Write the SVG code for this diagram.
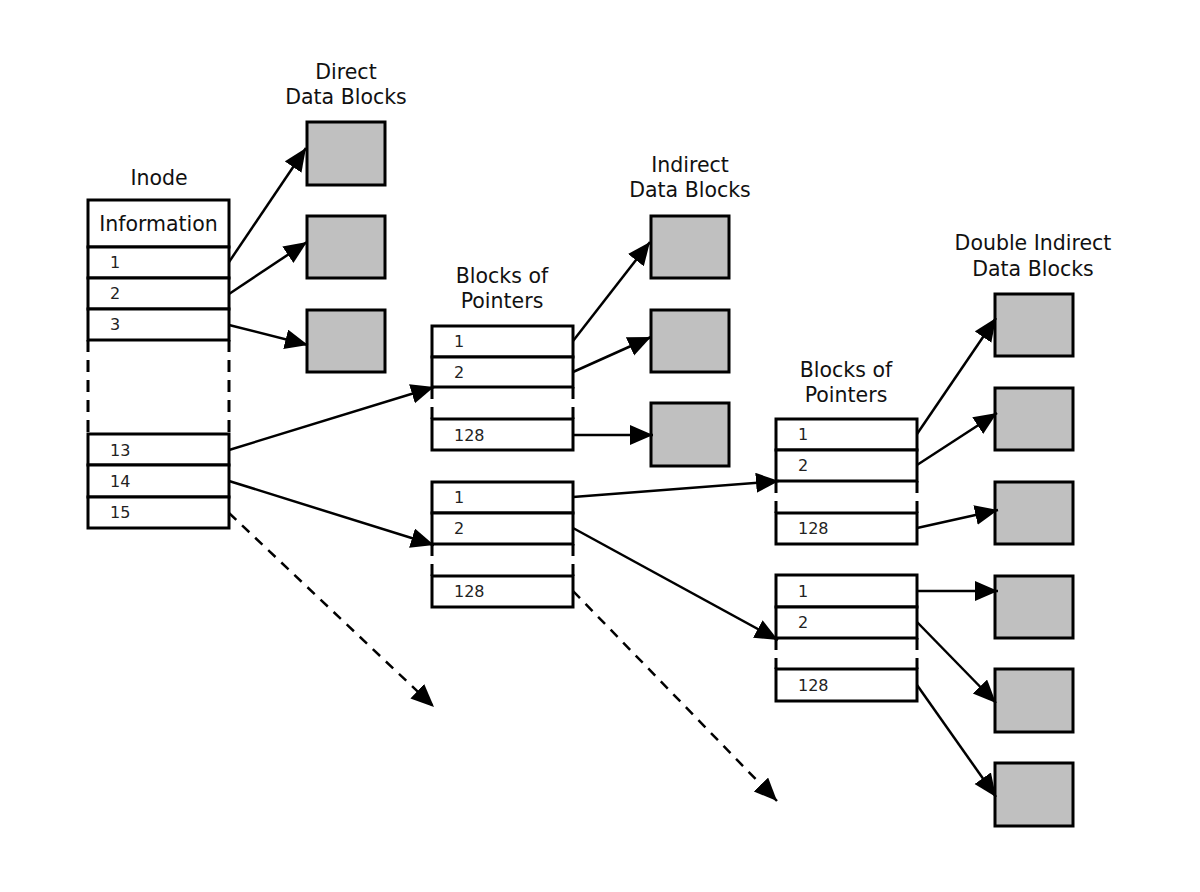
<svg xmlns="http://www.w3.org/2000/svg" width="1200" height="892" viewBox="0 0 1200 892">
<defs>
<marker id="ah" markerUnits="userSpaceOnUse" markerWidth="26" markerHeight="22" refX="23" refY="10" orient="auto">
<path d="M0,0 L23,10 L0,20 Z" fill="#000"/>
</marker>
<style>
.lbl{font-family:"DejaVu Sans",sans-serif;font-size:20.5px;fill:#111;text-anchor:middle}
.num{font-family:"DejaVu Sans",sans-serif;font-size:16px;fill:#222}
.cell{fill:#fff;stroke:#000;stroke-width:3}
.data{fill:#c0c0c0;stroke:#000;stroke-width:3}
.dsh{stroke:#000;stroke-width:3;stroke-dasharray:12 8;fill:none}
.ln{stroke:#000;stroke-width:2.5;fill:none;marker-end:url(#ah)}
.dln{stroke:#000;stroke-width:2.5;fill:none;stroke-dasharray:10 8;marker-end:url(#ah)}
</style>
</defs>
<rect width="1200" height="892" fill="#fff"/>

<g id="labels">
<text class="lbl" x="159" y="185">Inode</text>
<text class="lbl" x="346" y="79">Direct</text>
<text class="lbl" x="346" y="104">Data Blocks</text>
<text class="lbl" x="502" y="283">Blocks of</text>
<text class="lbl" x="502" y="308">Pointers</text>
<text class="lbl" x="690" y="172">Indirect</text>
<text class="lbl" x="690" y="197">Data Blocks</text>
<text class="lbl" x="846" y="377">Blocks of</text>
<text class="lbl" x="846" y="402">Pointers</text>
<text class="lbl" x="1033" y="250">Double Indirect</text>
<text class="lbl" x="1033" y="276">Data Blocks</text>
</g>

<g id="inode">
<rect class="cell" x="88" y="200" width="141" height="47"/>
<text class="lbl" x="158.5" y="231">Information</text>
<rect class="cell" x="88" y="247" width="141" height="31"/>
<text class="num" x="110" y="268">1</text>
<rect class="cell" x="88" y="278" width="141" height="31"/>
<text class="num" x="110" y="299">2</text>
<rect class="cell" x="88" y="309" width="141" height="31"/>
<text class="num" x="110" y="330">3</text>
<line class="dsh" x1="88" y1="340" x2="88" y2="434"/>
<line class="dsh" x1="229" y1="340" x2="229" y2="434"/>
<rect class="cell" x="88" y="434" width="141" height="31"/>
<text class="num" x="110" y="456">13</text>
<rect class="cell" x="88" y="465" width="141" height="32"/>
<text class="num" x="110" y="487">14</text>
<rect class="cell" x="88" y="497" width="141" height="31"/>
<text class="num" x="110" y="518">15</text>
</g>

<g id="direct-blocks">
<rect class="data" x="307" y="122" width="78" height="63"/>
<rect class="data" x="307" y="216" width="78" height="62"/>
<rect class="data" x="307" y="310" width="78" height="62"/>
</g>

<g id="pointers-1a">
<rect class="cell" x="432" y="326" width="141" height="31"/>
<text class="num" x="454" y="347">1</text>
<rect class="cell" x="432" y="357" width="141" height="30"/>
<text class="num" x="454" y="378">2</text>
<line class="dsh" x1="432" y1="387" x2="432" y2="419"/>
<line class="dsh" x1="573" y1="387" x2="573" y2="419"/>
<rect class="cell" x="432" y="419" width="141" height="31"/>
<text class="num" x="454" y="441">128</text>
</g>

<g id="pointers-1b">
<rect class="cell" x="432" y="482" width="141" height="31"/>
<text class="num" x="454" y="503">1</text>
<rect class="cell" x="432" y="513" width="141" height="31"/>
<text class="num" x="454" y="534">2</text>
<line class="dsh" x1="432" y1="544" x2="432" y2="576"/>
<line class="dsh" x1="573" y1="544" x2="573" y2="576"/>
<rect class="cell" x="432" y="576" width="141" height="31"/>
<text class="num" x="454" y="597">128</text>
</g>

<g id="indirect-blocks">
<rect class="data" x="651" y="216" width="78" height="62"/>
<rect class="data" x="651" y="310" width="78" height="62"/>
<rect class="data" x="651" y="403" width="78" height="63"/>
</g>

<g id="pointers-2a">
<rect class="cell" x="776" y="419" width="141" height="31"/>
<text class="num" x="798" y="440">1</text>
<rect class="cell" x="776" y="450" width="141" height="31"/>
<text class="num" x="798" y="471">2</text>
<line class="dsh" x1="776" y1="481" x2="776" y2="513"/>
<line class="dsh" x1="917" y1="481" x2="917" y2="513"/>
<rect class="cell" x="776" y="513" width="141" height="31"/>
<text class="num" x="798" y="534">128</text>
</g>

<g id="pointers-2b">
<rect class="cell" x="776" y="575" width="141" height="32"/>
<text class="num" x="798" y="597">1</text>
<rect class="cell" x="776" y="607" width="141" height="31"/>
<text class="num" x="798" y="628">2</text>
<line class="dsh" x1="776" y1="638" x2="776" y2="669"/>
<line class="dsh" x1="917" y1="638" x2="917" y2="669"/>
<rect class="cell" x="776" y="669" width="141" height="32"/>
<text class="num" x="798" y="691">128</text>
</g>

<g id="double-indirect-blocks">
<rect class="data" x="995" y="294" width="78" height="62"/>
<rect class="data" x="995" y="388" width="78" height="62"/>
<rect class="data" x="995" y="482" width="78" height="62"/>
<rect class="data" x="995" y="576" width="78" height="62"/>
<rect class="data" x="995" y="669" width="78" height="63"/>
<rect class="data" x="995" y="763" width="78" height="63"/>
</g>

<g id="connectors">
<line class="ln" x1="229" y1="262" x2="306" y2="148"/>
<line class="ln" x1="229" y1="294" x2="307" y2="242"/>
<line class="ln" x1="229" y1="325" x2="308" y2="345"/>
<line class="ln" x1="229" y1="450" x2="434" y2="387"/>
<line class="ln" x1="229" y1="481" x2="434" y2="545"/>
<line class="dln" x1="229" y1="513" x2="434" y2="707"/>
<line class="ln" x1="573" y1="341" x2="650" y2="242"/>
<line class="ln" x1="573" y1="372" x2="651" y2="337"/>
<line class="ln" x1="573" y1="435" x2="653" y2="435"/>
<line class="ln" x1="573" y1="497" x2="779" y2="481"/>
<line class="ln" x1="573" y1="528" x2="778" y2="640"/>
<line class="dln" x1="573" y1="591" x2="777" y2="801"/>
<line class="ln" x1="917" y1="434" x2="996" y2="318"/>
<line class="ln" x1="917" y1="465" x2="997" y2="413"/>
<line class="ln" x1="917" y1="528" x2="998" y2="510"/>
<line class="ln" x1="917" y1="591" x2="998" y2="591"/>
<line class="ln" x1="917" y1="622" x2="996" y2="703"/>
<line class="ln" x1="917" y1="685" x2="996" y2="797"/>
</g>
</svg>
